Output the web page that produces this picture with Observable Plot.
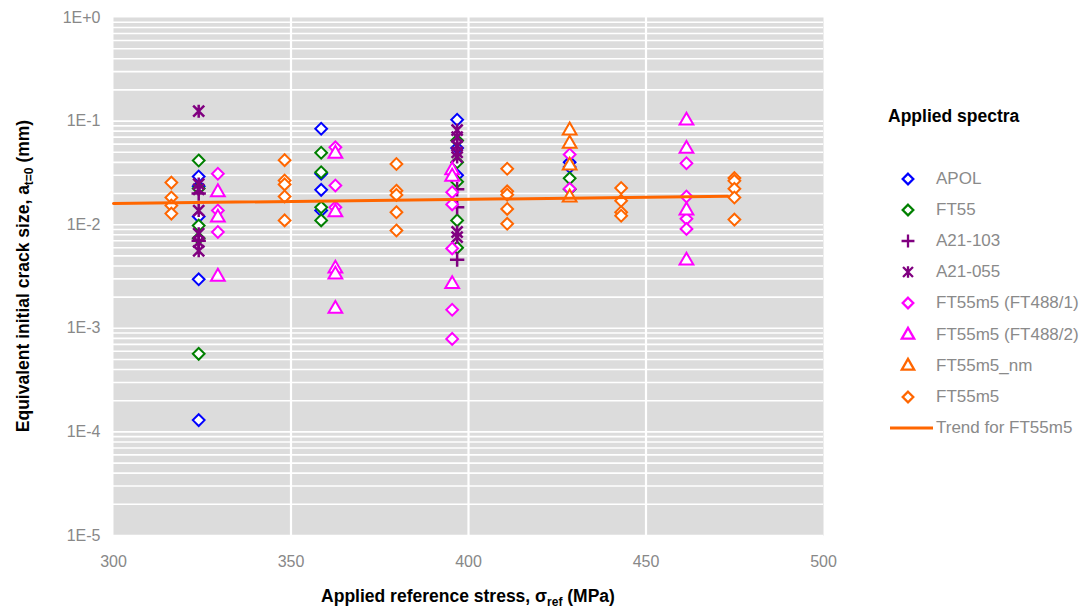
<!DOCTYPE html>
<html><head><meta charset="utf-8">
<script src="https://cdn.jsdelivr.net/npm/d3@7"></script>
<script src="https://cdn.jsdelivr.net/npm/@observablehq/plot@0.6"></script>
<style>
body{margin:0;background:#fff;font-family:"Liberation Sans",Arial,sans-serif;}
#wrap{position:relative;width:1084px;height:612px;overflow:hidden;}
#legend{position:absolute;left:0;top:0;width:1084px;height:612px;pointer-events:none;}
.lt{position:absolute;font-weight:bold;font-size:17.5px;color:#000;}
.li{position:absolute;font-size:17px;color:#8a8a8a;white-space:nowrap;line-height:20px;}
</style></head><body><div id="wrap"></div><script>
// ---- data ----
const seriesNames = ["APOL","FT55","A21-103","A21-055","FT55m5 (FT488/1)","FT55m5 (FT488/2)","FT55m5_nm","FT55m5"];
const seriesColors = ["#0000ff","#008000","#800080","#800080","#ff00ff","#ff00ff","#ff6600","#ff6600"];
const seriesSymbols = ["diamond","diamond","plus","asterisk","diamond","triangle","triangle","diamond"];

const stressAPOL = [324,324,324,324,324, 358.5,358.5,358.5,358.5, 396.8,396.8,396.8, 428.5,428.5];
const sizeAPOL   = [0.0292,0.0235,0.0120,0.00297,0.000130, 0.0843,0.031,0.0217,0.0137, 0.103,0.055,0.030, 0.040,0.036];

const stressFT55 = [324,324,324,324,324, 358.5,358.5,358.5,358.5, 396.8,396.8,396.8,396.8,396.8, 428.5,428.5];
const sizeFT55   = [0.0417,0.0224,0.0098,0.0074,0.000567, 0.0495,0.0321,0.0147,0.0110, 0.065,0.040,0.026,0.0110,0.0060, 0.028,0.022];

const stressA21103 = [324,324, 396.8,396.8,396.8];
const sizeA21103   = [0.020,0.0070, 0.022,0.0147,0.0046];

const stressA21055 = [324,324,324,324,324,324,324, 396.8,396.8,396.8,396.8,396.8,396.8,396.8];
const sizeA21055   = [0.1247,0.0247,0.0220,0.0137,0.0082,0.0068,0.0056, 0.082,0.070,0.058,0.050,0.045,0.0085,0.0076];

const stressFT488a = [329.4,329.4,329.4, 362.5,362.5,362.5, 395.4,395.4,395.4,395.4,395.4, 428.5,428.5, 461.4,461.4,461.4,461.4];
const sizeFT488a   = [0.0310,0.0137,0.0085, 0.0558,0.0239,0.0147, 0.0206,0.0157,0.0059,0.00151,0.00079, 0.0476,0.0222, 0.0392,0.0187,0.0114,0.0091];

const stressFT488b = [329.4,329.4,329.4, 362.5,362.5,362.5,362.5,362.5, 395.4,395.4,395.4, 461.4,461.4,461.4,461.4];
const sizeFT488b   = [0.0206,0.0117,0.00315, 0.0484,0.0132,0.00377,0.0033,0.00154, 0.0335,0.0290,0.00267, 0.101,0.054,0.0137,0.0045];

const stressNM = [428.5,428.5,428.5,428.5];
const sizeNM   = [0.0812,0.0605,0.0372,0.0183];

const stressFT55m5 = [316.3,316.3,316.3,316.3, 348.2,348.2,348.2,348.2,348.2, 379.7,379.7,379.7,379.7,379.7, 410.9,410.9,410.9,410.9,410.9, 443,443,443,443, 474.9,474.9,474.9,474.9,474.9];
const sizeFT55m5   = [0.0255,0.0183,0.0153,0.0128, 0.042,0.0267,0.0245,0.0187,0.011, 0.0385,0.0213,0.0194,0.0132,0.0088, 0.0347,0.0210,0.0195,0.0142,0.0102, 0.0226,0.0170,0.0132,0.0122, 0.0282,0.0265,0.0222,0.0183,0.0112];

const trendStress = [300, 473];
const trendSize   = [0.0160, 0.0188];
const trendName = "Trend for FT55m5";

const xTicks = [300,350,400,450,500];
const xGrid = [350,400,450];
const yTicks = [1e-5,1e-4,1e-3,1e-2,1e-1,1];
const yMinor = [2,3,4,5,6,7,8,9];

// ---- build ----
const stressLists = [stressAPOL,stressFT55,stressA21103,stressA21055,stressFT488a,stressFT488b,stressNM,stressFT55m5];
const sizeLists = [sizeAPOL,sizeFT55,sizeA21103,sizeA21055,sizeFT488a,sizeFT488b,sizeNM,sizeFT55m5];

const asteriskSym = {draw(ctx, size){
  const r = Math.sqrt(size/Math.PI)*1.3;
  const d = r*0.85;
  ctx.moveTo(0,-r); ctx.lineTo(0,r);
  ctx.moveTo(-d,-d); ctx.lineTo(d,d);
  ctx.moveTo(-d,d); ctx.lineTo(d,-d);
}};
function symOf(s){
  if (s==="diamond") return d3.symbolDiamond2;
  if (s==="triangle") return d3.symbolTriangle;
  if (s==="plus") return d3.symbolPlus;
  return asteriskSym;
}
function rOf(s){ return s==="triangle"?5.1:(s==="diamond"?5.3:(s==="plus"?4.7:5.0)); }
const gridY = [];
for (let k=-5;k<0;k++){ for (const m of [1,...yMinor]) gridY.push(m*Math.pow(10,k)); }

const dotMarks = seriesNames.map((name,i)=>{
  const data = stressLists[i].map((x,j)=>({x, y: sizeLists[i][j]}));
  const s = seriesSymbols[i];
  const open = s==="diamond"||s==="triangle";
  return Plot.dot(data,{x:"x",y:"y",symbol:symOf(s), r: rOf(s),
    stroke: seriesColors[i], strokeWidth: open?2:2.5,
    fill: open?"white":"none"});
});
const trendData = trendStress.map((x,j)=>({x,y:trendSize[j]}));

const chart = Plot.plot({
  width:1084, height:612,
  marginLeft:113, marginRight:261, marginTop:17, marginBottom:77,
  style:{fontFamily:"'Liberation Sans', Arial, sans-serif", fontSize:"16px", color:"#888888", background:"transparent", overflow:"visible"},
  x:{domain:[300,500], ticks:xTicks, tickSize:0, tickPadding:20, label:null, tickFormat:d=>String(d)},
  y:{type:"log", domain:[1e-5,1], ticks:yTicks, tickSize:0, tickPadding:13, label:null,
     tickFormat:d=>{const e=Math.round(Math.log10(d)); return "1E"+(e>=0?"+"+e:String(e));}},
  marks:[
    Plot.frame({fill:"#dcdcdc", stroke:null}),
    Plot.ruleY(gridY,{stroke:"white", strokeWidth:1.6}),
    Plot.ruleX(xGrid,{stroke:"white", strokeWidth:2.2}),
    ...dotMarks,
    Plot.line(trendData,{x:"x",y:"y",stroke:"#ff6600",strokeWidth:3})
  ]
});
document.getElementById("wrap").appendChild(chart);

// axis titles
const svg = d3.select(chart);
const xt = svg.append("text").attr("x",468).attr("y",602).attr("text-anchor","middle")
  .attr("font-weight","bold").attr("font-size","17.5px").attr("fill","#000");
xt.append("tspan").text("Applied reference stress, σ");
xt.append("tspan").attr("font-size","12px").attr("dy","3.5").text("ref");
xt.append("tspan").attr("dy","-3.5").text(" (MPa)");

const yt = svg.append("text").attr("transform","translate(29,276) rotate(-90)").attr("text-anchor","middle")
  .attr("font-weight","bold").attr("font-size","17.5px").attr("fill","#000");
yt.append("tspan").text("Equivalent initial crack size, a");
yt.append("tspan").attr("font-size","12px").attr("dy","4").text("t=0");
yt.append("tspan").attr("dy","-4").text(" (mm)");

// legend
const lg = document.createElement("div"); lg.id="legend";
document.getElementById("wrap").appendChild(lg);
const t = document.createElement("div"); t.className="lt"; t.style.left="888px"; t.style.top="106px"; t.textContent="Applied spectra";
lg.appendChild(t);
const rowY0 = 179, rowH = 31.1;
seriesNames.forEach((name,i)=>{
  const cy = rowY0 + i*rowH;
  const s = seriesSymbols[i];
  const open = s==="diamond"||s==="triangle";
  const sz = Math.PI*Math.pow(rOf(s)*0.9,2);
  const p = d3.path(); symOf(s).draw(p, sz);
  const ic = document.createElementNS("http://www.w3.org/2000/svg","svg");
  ic.setAttribute("width","20"); ic.setAttribute("height","20");
  ic.style.position="absolute"; ic.style.left=(908-10)+"px"; ic.style.top=(cy-10)+"px";
  ic.innerHTML = `<path transform="translate(10,10)" d="${p.toString()}" fill="${open?'white':'none'}" stroke="${seriesColors[i]}" stroke-width="2.3"/>`;
  lg.appendChild(ic);
  const tx = document.createElement("div"); tx.className="li"; tx.style.left="936px"; tx.style.top=(cy-10)+"px"; tx.textContent=name;
  lg.appendChild(tx);
});
{
  const cy = rowY0 + 8*rowH + 0.5;
  const ic = document.createElementNS("http://www.w3.org/2000/svg","svg");
  ic.setAttribute("width","50"); ic.setAttribute("height","10");
  ic.style.position="absolute"; ic.style.left="889px"; ic.style.top=(cy-5)+"px";
  ic.innerHTML = `<line x1="1" x2="44" y1="5" y2="5" stroke="#ff6600" stroke-width="3"/>`;
  lg.appendChild(ic);
  const tx = document.createElement("div"); tx.className="li"; tx.style.left="936px"; tx.style.top=(cy-10)+"px"; tx.textContent=trendName;
  lg.appendChild(tx);
}
</script></body></html>
